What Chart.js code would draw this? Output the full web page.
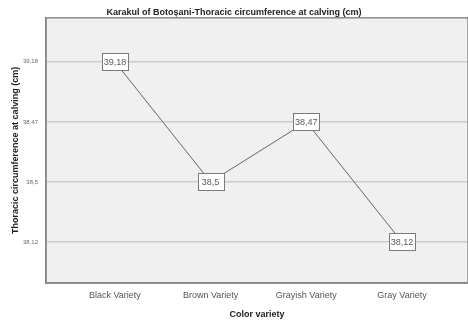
<!DOCTYPE html>
<html>
<head>
<meta charset="utf-8">
<script src="https://cdn.jsdelivr.net/npm/chart.js@4/dist/chart.umd.min.js"></script>
<style>
  html, body { margin: 0; padding: 0; background: #ffffff; }
  #wrap { width: 468px; height: 324px; }
</style>
</head>
<body>
<div id="wrap"><canvas id="c" width="468" height="324"></canvas></div>
<script>
// ---- data ----
const categories = ['Black Variety', 'Brown Variety', 'Grayish Variety', 'Gray Variety'];
const values = [39.18, 38.5, 38.47, 38.12];
const yTickLabels = ['39,18', '38,47', '38,5', '38,12'];   // axis labels, top to bottom as printed
const chartTitle = 'Karakul of Botoșani-Thoracic circumference at calving (cm)';
const xTitle = 'Color variety';
const yTitle = 'Thoracic circumference at calving (cm)';

const FONT = '"Liberation Sans", Arial, sans-serif';
const fmt = v => String(v).replace('.', ',');
// the printed axis places each value at the tick carrying its label
const points = values.map((v, i) => ({ x: i, y: yTickLabels.indexOf(fmt(v)), label: fmt(v) }));

const plotFrame = {
  id: 'plotFrame',
  beforeDatasetsDraw(chart) {},
  beforeDraw(chart) {
    const { ctx, chartArea: a } = chart;
    ctx.save();
    ctx.fillStyle = '#f0f0f0';
    ctx.fillRect(a.left, a.top, a.right - a.left, a.bottom - a.top);
    ctx.restore();
  },
  afterDraw(chart) {
    const { ctx, chartArea: a } = chart;
    ctx.save();
    ctx.strokeStyle = '#8a8a8a';
    ctx.lineWidth = 1.5;
    ctx.strokeRect(a.left, a.top, a.right - a.left, a.bottom - a.top);
    ctx.restore();
  }
};

const boxLabels = {
  id: 'boxLabels',
  afterDatasetsDraw(chart) {
    const { ctx } = chart;
    const meta = chart.getDatasetMeta(0);
    ctx.save();
    ctx.font = '9px ' + FONT;
    ctx.textAlign = 'center';
    ctx.textBaseline = 'middle';
    meta.data.forEach((el, i) => {
      const txt = chart.data.datasets[0].data[i].label;
      const w = 26, h = 17;
      const x = Math.round(el.x - w / 2) + 0.5, y = Math.round(el.y - h / 2) + 0.5;
      ctx.fillStyle = '#ffffff';
      ctx.fillRect(x, y, w, h);
      ctx.strokeStyle = '#7a7a7a';
      ctx.lineWidth = 1;
      ctx.strokeRect(x, y, w, h);
      ctx.fillStyle = '#5a5a5a';
      ctx.fillText(txt, el.x, el.y + 0.5);
    });
    ctx.restore();
  }
};

new Chart(document.getElementById('c'), {
  type: 'line',
  data: {
    datasets: [{
      data: points,
      borderColor: '#666666',
      borderWidth: 1,
      pointRadius: 0,
      tension: 0,
      fill: false
    }]
  },
  options: {
    responsive: false,
    animation: false,
    devicePixelRatio: 1,
    layout: { padding: { top: 0, right: 0, bottom: 0, left: 0 } },
    plugins: {
      legend: { display: false },
      tooltip: { enabled: false },
      title: {
        display: true,
        text: chartTitle,
        color: '#222222',
        font: { family: FONT, size: 9, weight: 'bold' },
        padding: { top: 7, bottom: 0 }
      }
    },
    scales: {
      x: {
        type: 'linear',
        min: -0.72,
        max: 3.69,
        afterBuildTicks(s) { s.ticks = categories.map((_, i) => ({ value: i })); },
        afterFit(s) { s.height = 41; },
        grid: { display: false, drawTicks: false },
        border: { display: true, color: '#777777', width: 1.5 },
        ticks: {
          padding: 7,
          autoSkip: false,
          maxRotation: 0,
          color: '#555555',
          font: { family: FONT, size: 9 },
          callback: v => categories[v]
        },
        title: {
          display: true,
          text: xTitle,
          color: '#222222',
          font: { family: FONT, size: 9, weight: 'bold' },
          padding: { top: 0, bottom: 4 }
        }
      },
      y: {
        type: 'linear',
        reverse: true,
        min: -0.733,
        max: 3.683,
        afterBuildTicks(s) { s.ticks = yTickLabels.map((_, i) => ({ value: i })); },
        afterFit(s) { s.width = 46; },
        grid: { color: '#cdcdcd', lineWidth: 1.5, drawTicks: false },
        border: { display: true, color: '#777777', width: 1.5 },
        ticks: {
          padding: 8,
          autoSkip: false,
          color: '#666666',
          font: { family: FONT, size: 6 },
          callback: v => yTickLabels[v]
        },
        title: {
          display: true,
          text: yTitle,
          color: '#222222',
          font: { family: FONT, size: 9, weight: 'bold' },
          padding: { top: 10, bottom: 0 }
        }
      }
    }
  },
  plugins: [plotFrame, boxLabels]
});
</script>
</body>
</html>
